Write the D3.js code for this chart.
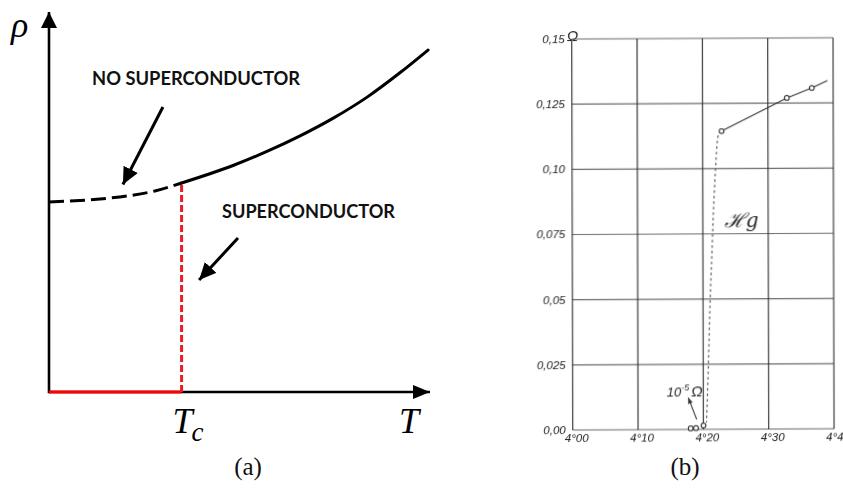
<!DOCTYPE html>
<html>
<head>
<meta charset="utf-8">
<script src="https://cdn.jsdelivr.net/npm/d3@7"></script>
<style>
  html, body { margin: 0; padding: 0; background: #fff; }
  svg { display: block; }
</style>
</head>
<body>
<svg id="fig" width="843" height="490"></svg>
<script>
// ---------- (a) schematic: resistivity against temperature ----------
const criticalT = 34.8;                                   // T_c on the schematic axis
const extrapT   = [0, 13.4, 21.3, 27.8, 34.8];            // normal-state curve continued below T_c
const extrapRho = [50, 50.8, 51.7, 52.9, 55];
const normalT   = [34.8, 48.3, 57.2, 65.9, 74.5, 83.5, 92.1, 99.5];
const normalRho = [55, 59.6, 63.3, 67.4, 72.0, 77.6, 84.0, 90.0];
const superT    = [0, 34.8];                              // zero resistance below T_c
const superRho  = [0, 0];
const stateLabels = ["NO SUPERCONDUCTOR", "SUPERCONDUCTOR"];

// ---------- (b) mercury, resistance against temperature ----------
const hgHighT = [4.2290, 4.3291, 4.3674];                 // measured, normal state
const hgHighR = [0.1144, 0.1270, 0.1308];
const hgLineEndT = 4.3913, hgLineEndR = 0.1336;
const hgLowT  = [4.1806, 4.1887, 4.2002];                 // measured, below the drop
const hgLowR  = [0.0004, 0.0005, 0.0015];
const hgDropT = [4.2290, 4.2240, 4.2217, 4.2201, 4.2171, 4.2140, 4.2109, 4.2079, 4.2048];
const hgDropR = [0.1144, 0.1128, 0.1082, 0.1017, 0.0882, 0.0691, 0.0499, 0.0249, 0.0027];
const tempTicks  = [4.0, 4.1, 4.2, 4.3, 4.4];
const tempLabels = ["4°00", "4°10", "4°20", "4°30", "4°40"];
const resTicks   = [0, 0.025, 0.05, 0.075, 0.10, 0.125, 0.15];
const resLabels  = ["0,00", "0,025", "0,05", "0,075", "0,10", "0,125", "0,15"];

const svg = d3.select("#fig");
const defs = svg.append("defs");

const mathFont = "'Liberation Serif', 'DejaVu Serif', serif";
const handFont = "'Liberation Sans', 'DejaVu Sans', sans-serif";

// ===================== panel (a) =====================
const xA = d3.scaleLinear().domain([0, 100]).range([49, 430]);
const yA = d3.scaleLinear().domain([0, 100]).range([392, 12]);
const gA = svg.append("g");

function arrowMarker(id, len, half, color) {
  defs.append("marker")
    .attr("id", id)
    .attr("markerUnits", "userSpaceOnUse")
    .attr("viewBox", `0 ${-half} ${len} ${2 * half}`)
    .attr("refX", len).attr("refY", 0)
    .attr("markerWidth", len).attr("markerHeight", 2 * half)
    .attr("orient", "auto")
    .append("path")
    .attr("d", `M0,${-half}L${len},0L0,${half}Z`)
    .attr("fill", color);
}
arrowMarker("axHeadX", 17, 7, "#000");
arrowMarker("axHeadY", 16, 8, "#000");
arrowMarker("noteHead", 17, 8, "#000");
arrowMarker("tinyHead", 6, 2.5, "#333");

// axes drawn with d3 axes, no ticks, arrowheads at the ends
const axB = gA.append("g").attr("transform", `translate(0,${yA(0)})`)
  .call(d3.axisBottom(xA).tickValues([]).tickSizeOuter(0).offset(0));
axB.select(".domain").attr("stroke", "#000").attr("stroke-width", 2.6)
  .attr("marker-end", "url(#axHeadX)");
const axL = gA.append("g").attr("transform", `translate(${xA(0)},0)`)
  .call(d3.axisLeft(yA).tickValues([]).tickSizeOuter(0).offset(0));
axL.select(".domain").attr("stroke", "#000").attr("stroke-width", 2.6)
  .attr("d", `M0,${yA(0) + 1.3}V${yA(100)}`)
  .attr("marker-end", "url(#axHeadY)");

const lineA = d3.line().x(d => xA(d[0])).y(d => yA(d[1])).curve(d3.curveMonotoneX);

// superconducting branch: zero resistivity up to T_c
gA.append("path")
  .attr("d", lineA(d3.zip(superT, superRho)))
  .attr("fill", "none").attr("stroke", "#ff0000").attr("stroke-width", 3);

function rhoAt(t) {
  const i = normalT.indexOf(t);
  return i >= 0 ? normalRho[i] : extrapRho[extrapT.indexOf(t)];
}

// vertical drop at T_c
gA.append("path")
  .attr("d", d3.line()([[xA(criticalT), yA(0)], [xA(criticalT), yA(rhoAt(criticalT))]]))
  .attr("fill", "none").attr("stroke", "#ea1c24").attr("stroke-width", 3)
  .attr("stroke-dasharray", "7,3");

// normal state continued below T_c (dashed)
gA.append("path")
  .attr("d", lineA(d3.zip(extrapT, extrapRho)))
  .attr("fill", "none").attr("stroke", "#000").attr("stroke-width", 3)
  .attr("stroke-dasharray", "15,6");

// normal state above T_c
gA.append("path")
  .attr("d", lineA(d3.zip(normalT, normalRho)))
  .attr("fill", "none").attr("stroke", "#000").attr("stroke-width", 3)
  .attr("stroke-linecap", "round");

// state labels with pointing arrows (positions in plot units)
const notes = [
  { text: stateLabels[0], t: 11.3, r: 80.8, width: 208, from: [29.9, 75.0], to: [19.4, 54.6] },
  { text: stateLabels[1], t: 45.4, r: 45.8, width: 173, from: [49.6, 40.5], to: [39.4, 29.5] }
];
notes.forEach(n => {
  gA.append("text")
    .attr("x", xA(n.t)).attr("y", yA(n.r))
    .attr("font-family", "Lato, 'Open Sans', sans-serif")
    .attr("font-weight", "bold").attr("font-size", 18)
    .attr("textLength", n.width).attr("lengthAdjust", "spacingAndGlyphs")
    .attr("fill", "#111").text(n.text);
  gA.append("line")
    .attr("x1", xA(n.from[0])).attr("y1", yA(n.from[1]))
    .attr("x2", xA(n.to[0])).attr("y2", yA(n.to[1]))
    .attr("stroke", "#000").attr("stroke-width", 3)
    .attr("marker-end", "url(#noteHead)");
});

// axis symbols
gA.append("text").attr("x", xA(0) - 38).attr("y", yA(100) + 25)
  .attr("font-family", mathFont).attr("font-style", "italic").attr("font-size", 36)
  .attr("fill", "#000").text("ρ");
const tcLabel = gA.append("text").attr("x", xA(criticalT) - 9).attr("y", yA(0) + 41)
  .attr("font-family", mathFont).attr("font-style", "italic").attr("font-size", 36)
  .attr("fill", "#000");
tcLabel.append("tspan").text("T");
tcLabel.append("tspan").attr("dx", -1).attr("dy", 8).attr("font-size", 27).text("c");
gA.append("text").attr("x", xA(100) - 31).attr("y", yA(0) + 41)
  .attr("font-family", mathFont).attr("font-style", "italic").attr("font-size", 36)
  .attr("fill", "#000").text("T");

gA.append("text").attr("x", 248).attr("y", 475).attr("text-anchor", "middle")
  .attr("font-family", mathFont).attr("font-size", 25).attr("fill", "#111").text("(a)");

// ===================== panel (b) =====================
const xB = d3.scaleLinear().domain([4.0, 4.4]).range([572.7, 834]);
const yB = d3.scaleLinear().domain([0, 0.15]).range([430, 39]);

defs.append("filter").attr("id", "scan")
  .append("feGaussianBlur").attr("stdDeviation", 0.35);

// the printed sheet sits very slightly skewed
const sx = 0.0026, sy = 0.005;
const gB = svg.append("g")
  .attr("transform", `matrix(1,${-sy},${sx},1,${-sx * yB(0)},${sy * xB(4.0)})`)
  .attr("filter", "url(#scan)");

// grid from d3 axes
const gridH = gB.append("g").attr("transform", `translate(${xB(4.0)},0)`)
  .call(d3.axisRight(yB).tickValues(resTicks).tickSize(xB(4.4) - xB(4.0)).tickFormat("").offset(0));
gridH.select(".domain").remove();
gridH.selectAll(".tick line").attr("stroke", "#6d6d6d").attr("stroke-width", 1.1);

const gridV = gB.append("g").attr("transform", `translate(0,${yB(0.15)})`)
  .call(d3.axisBottom(xB).tickValues(tempTicks).tickSize(yB(0) - yB(0.15)).tickFormat("").offset(0));
gridV.select(".domain").remove();
gridV.selectAll(".tick line").attr("stroke", "#2b2b2b").attr("stroke-width", 1.1);

// tick labels
gB.selectAll("text.rlab").data(resTicks).join("text").attr("class", "rlab")
  .attr("x", xB(4.0) - 7).attr("y", d => yB(d) + 4)
  .attr("text-anchor", "end")
  .attr("font-family", handFont).attr("font-style", "italic").attr("font-size", 11.5)
  .attr("fill", "#222").text((d, i) => resLabels[i]);
gB.append("text").attr("x", xB(4.0) - 5).attr("y", yB(0.15) + 2)
  .attr("font-family", handFont).attr("font-style", "italic").attr("font-size", 15)
  .attr("fill", "#222").text("Ω");

gB.selectAll("text.tlab").data(tempTicks).join("text").attr("class", "tlab")
  .attr("x", d => xB(d) + 4).attr("y", yB(0) + 12)
  .attr("text-anchor", "middle")
  .attr("font-family", handFont).attr("font-style", "italic").attr("font-size", 11.5)
  .attr("fill", "#222").text((d, i) => tempLabels[i]);

// steep fall of the resistance (dotted)
const lineB = d3.line().x(d => xB(d[0])).y(d => yB(d[1])).curve(d3.curveMonotoneY);
gB.append("path")
  .attr("d", lineB(d3.zip(hgDropT, hgDropR)))
  .attr("fill", "none").attr("stroke", "#333").attr("stroke-width", 1)
  .attr("stroke-dasharray", "2.5,3");

// straight line through the normal-state readings
gB.append("path")
  .attr("d", d3.line().x(d => xB(d[0])).y(d => yB(d[1]))(
    d3.zip(hgHighT, hgHighR).concat([[hgLineEndT, hgLineEndR]])))
  .attr("fill", "none").attr("stroke", "#333").attr("stroke-width", 1);

// readings
gB.selectAll("circle.pt").data(d3.zip(hgHighT, hgHighR).concat(d3.zip(hgLowT, hgLowR)))
  .join("circle").attr("class", "pt")
  .attr("cx", d => xB(d[0])).attr("cy", d => yB(d[1])).attr("r", 2.4)
  .attr("fill", "#fff").attr("stroke", "#222").attr("stroke-width", 1);

// 10^-5 ohm annotation
gB.append("line")
  .attr("x1", xB(4.1898)).attr("y1", yB(0.00384))
  .attr("x2", xB(4.1770)).attr("y2", yB(0.01216))
  .attr("stroke", "#333").attr("stroke-width", 1)
  .attr("marker-end", "url(#tinyHead)");
const tenLabel = gB.append("text").attr("x", xB(4.1440)).attr("y", yB(0.0126))
  .attr("font-family", handFont).attr("font-style", "italic").attr("font-size", 13)
  .attr("fill", "#222");
tenLabel.append("tspan").text("10");
tenLabel.append("tspan").attr("dy", -6).attr("font-size", 9).text("-5");
tenLabel.append("tspan").attr("dy", 6).attr("dx", 2).attr("font-size", 15).text("Ω");

// element symbol
gB.append("text").attr("x", xB(4.2334)).attr("y", yB(0.0775))
  .attr("font-family", "'DejaVu Serif', serif").attr("font-style", "italic").attr("font-size", 20)
  .attr("fill", "#222").text("ℋg");

svg.append("text").attr("x", 685).attr("y", 475).attr("text-anchor", "middle")
  .attr("font-family", mathFont).attr("font-size", 25).attr("fill", "#111").text("(b)");
</script>
</body>
</html>
